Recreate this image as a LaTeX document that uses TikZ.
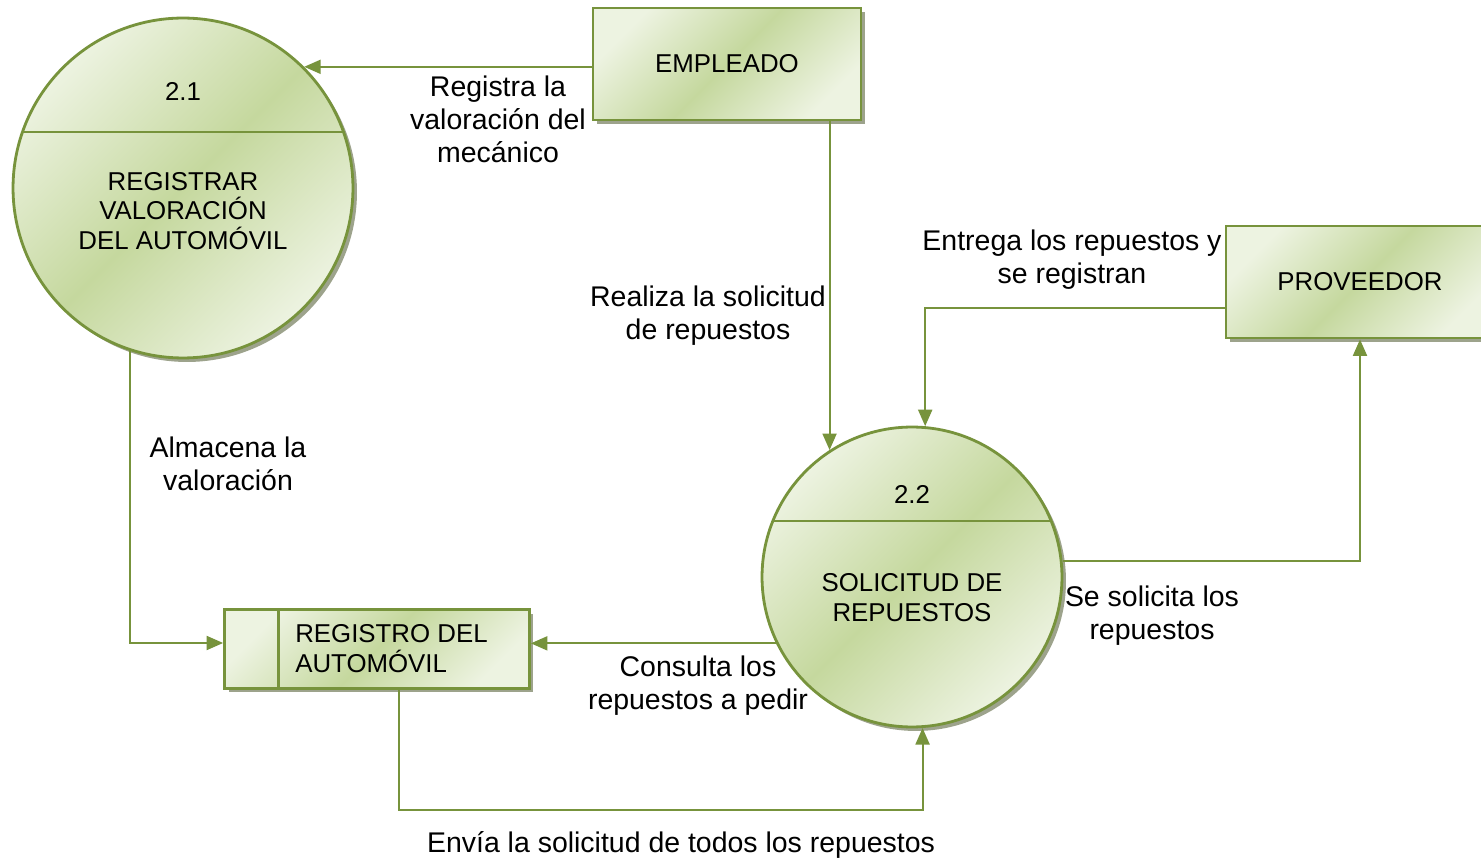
\documentclass[tikz,border=0pt]{standalone}
\usepackage{fontspec}
\setmainfont{Liberation Sans}
\usetikzlibrary{arrows.meta,positioning,calc,shadows}
\definecolor{verde}{HTML}{77933C}
\definecolor{claro}{HTML}{EDF3E1}
\definecolor{oscuro}{HTML}{C5D89E}
\definecolor{sombra}{HTML}{9DA38C}

\begin{document}
\begin{tikzpicture}[x=0.02cm, y=-0.02cm, >={Triangle[length=0.33cm,width=0.28cm]}]
\tikzstyle{relleno}=[draw=verde, line width=1.6pt, top color=claro, bottom color=claro, middle color=oscuro, shading angle=45, drop shadow={shadow xshift=0.08cm, shadow yshift=-0.08cm, fill=sombra, opacity=1}]
\tikzstyle{proceso}=[relleno, circle, inner sep=0pt]
\tikzstyle{entidad}=[relleno, rectangle, minimum width=5.36cm, minimum height=2.24cm, font=\fontsize{14.7}{17}\selectfont]
\tikzstyle{almacen}=[relleno, rectangle, minimum width=6.1cm, minimum height=1.58cm]
\tikzstyle{flujo}=[draw=verde, line width=1.1pt, ->]
\tikzstyle{texto}=[font=\fontsize{14.7}{17}\selectfont, align=center]
\tikzstyle{etiqueta}=[font=\fontsize{16.2}{18.8}\selectfont, align=center]
\path[use as bounding box, fill=white] (0,0) rectangle (1481,864);

\node[proceso, minimum size=6.8cm] (P21) at (183,188) {};
\node[proceso, minimum size=6cm]   (P22) at (912,577) {};
\node[entidad] (EMP)  at (727,64)  {EMPLEADO};
\node[entidad] (PROV) at (1360,282) {PROVEEDOR};
\node[almacen] (RA)   at (377,649) {};

\draw[verde, line width=1.1pt] ($(P21.center)+(-161,-56)$) -- ($(P21.center)+(161,-56)$);
\draw[verde, line width=1.1pt] ($(P22.center)+(-139,-56)$) -- ($(P22.center)+(139,-56)$);
\draw[verde, line width=1.6pt] ($(RA.north west)+(55,0)$) -- ($(RA.south west)+(55,0)$);

\node[texto] (n21) at (183,91)  {2.1};
\node[texto] (t21) at (183,211) {REGISTRAR\\VALORACIÓN\\DEL AUTOMÓVIL};
\node[texto] (n22) at (912,494) {2.2};
\node[texto] (t22) at (912,598) {SOLICITUD DE\\REPUESTOS};
\node[texto, align=left, anchor=west] (tRA) at ($(RA.west)+(66,0)$) {REGISTRO DEL\\AUTOMÓVIL};

\draw[flujo] (P21.45.4 -| EMP.west) -- (P21.45.4);
\draw[flujo] (P22.123.8 |- EMP.south) -- (P22.123.8);
\draw[flujo] ($(PROV.west)+(0,26)$) -| (P22.85.2);
\draw[flujo] (P22.6.1) -| (PROV.south);
\draw[flujo] (P22.206.1) -- (P22.206.1 -| RA.east);
\draw[flujo] (P21.252.5) |- ($(RA.west)+(0,-6)$);
\draw[flujo] ($(RA.south)+(22,0)$) -- ++(0,120) -| (P22.274.8);

\node[etiqueta] (l1) at (498,119)  {Registra la\\valoración del\\mecánico};
\node[etiqueta] (l2) at (708,316)  {Realiza la solicitud\\de repuestos};
\node[etiqueta] (l3) at (1072,260) {Entrega los repuestos y\\se registran};
\node[etiqueta] (l4) at (1152,616) {Se solicita los\\repuestos};
\node[etiqueta] (l5) at (698,686)  {Consulta los\\repuestos a pedir};
\node[etiqueta] (l6) at (228,464)  {Almacena la\\valoración};
\node[etiqueta] (l7) at (681,845)  {Envía la solicitud de todos los repuestos};
\end{tikzpicture}
\end{document}
